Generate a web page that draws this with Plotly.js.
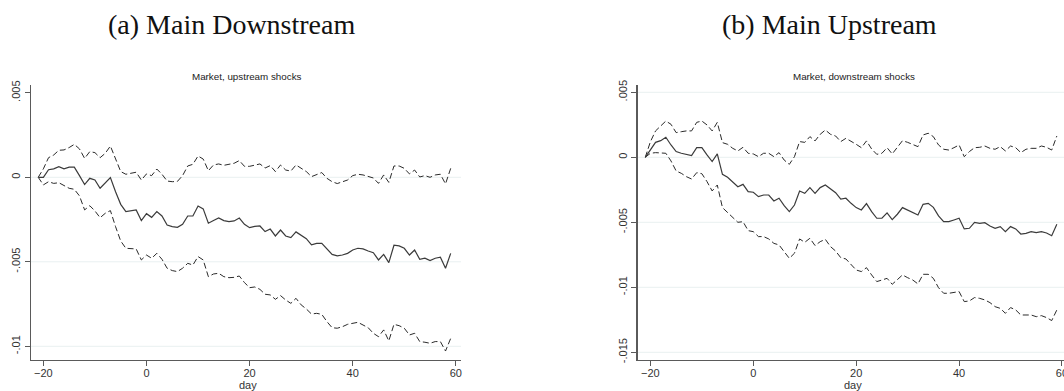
<!DOCTYPE html>
<html>
<head>
<meta charset="utf-8">
<script src="https://cdn.plot.ly/plotly-3.0.1.min.js"></script>
<style>
  html, body { margin: 0; padding: 0; background: #fff; }
  #chart { width: 1064px; height: 391px; overflow: hidden; }
</style>
</head>
<body>
<div id="chart"></div>
<script>
// Event days relative to the announcement
const days = [];
for (let d = -21; d <= 59; d++) days.push(d);

// (a) Main Downstream — market response to upstream shocks
const downEst = [
  0, 0, 0.00045, 0.0005, 0.00063, 0.0005, 0.0006, 0.0006, 0.0001, -0.00043,
  -0.00006, -0.00016, -0.00065, -0.00032, -0.00002, -0.00085, -0.0016, -0.00203, -0.002, -0.00193,
  -0.00256, -0.00215, -0.00237, -0.00203, -0.00229, -0.00282, -0.00292, -0.00296, -0.00278, -0.00229,
  -0.00229, -0.0017, -0.00187, -0.00272, -0.00256, -0.00241, -0.00256, -0.00262, -0.00258, -0.00241,
  -0.00278, -0.00298, -0.0029, -0.00288, -0.00321, -0.00306, -0.00347, -0.00312, -0.00347, -0.00357,
  -0.00323, -0.00343, -0.00363, -0.004, -0.00391, -0.00391, -0.00424, -0.00456, -0.00465, -0.0046,
  -0.0045, -0.0043, -0.0042, -0.00424, -0.00436, -0.00446, -0.00489, -0.00456, -0.00505, -0.00402,
  -0.00406, -0.0042, -0.0046, -0.0043, -0.00485, -0.00479, -0.00493, -0.00479, -0.00473, -0.00538,
  -0.0045
];
const downHi = [
  0, 0.0005, 0.00116, 0.00132, 0.0016, 0.00162, 0.00176, 0.00195, 0.00168, 0.00112,
  0.00152, 0.00146, 0.00116, 0.00142, 0.00185, 0.00108, 0.00034, 0.00018, 0.00024, 0.0003,
  -0.00016, 0.0002, 0.0001, 0.00049, 0.00018, -0.00022, -0.00026, -0.00024, 0.0001, 0.00067,
  0.00077, 0.00126, 0.00108, 0.00039, 0.00073, 0.00079, 0.00071, 0.00077, 0.00083, 0.00099,
  0.00065, 0.00065, 0.00073, 0.00079, 0.00055, 0.00069, 0.00034, 0.00073, 0.00043, 0.00037,
  0.00073, 0.00053, 0.00034, 0.00004, 0.00014, 0.00028, -0.00006, -0.00026, -0.00037, -0.00026,
  -0.00016, 0.0001, 0.00018, 0.00014, 0.00004, -0.00004, -0.00036, 0.00014, -0.0003, 0.00067,
  0.00067, 0.00053, 0.0002, 0.00043, 0.00002, 0.0001, 0, 0.00014, 0.00018, -0.00039,
  0.00053
];
const downLo = [
  0, -0.00045, -0.00026, -0.00036, -0.00032, -0.00051, -0.00065, -0.00071, -0.0011, -0.00193,
  -0.00168, -0.00199, -0.00239, -0.00213, -0.00197, -0.00292, -0.00377, -0.0042, -0.0042, -0.00424,
  -0.00489, -0.0046, -0.00479, -0.0045, -0.00485, -0.00538, -0.00552, -0.00558, -0.00538, -0.00509,
  -0.00519, -0.00469, -0.00489, -0.00588, -0.00572, -0.00568, -0.00588, -0.00594, -0.00592, -0.00584,
  -0.00623, -0.00653, -0.00649, -0.00663, -0.00692, -0.00696, -0.00722, -0.007, -0.00726, -0.00746,
  -0.00716, -0.00755, -0.00779, -0.00809, -0.00805, -0.00811, -0.00854, -0.0089, -0.00893, -0.00884,
  -0.0087, -0.00864, -0.00858, -0.00874, -0.0089, -0.00923, -0.00943, -0.00903, -0.00968, -0.0087,
  -0.00878, -0.00893, -0.00933, -0.00923, -0.00972, -0.00976, -0.00982, -0.00972, -0.00972, -0.01028,
  -0.00953
];

// (b) Main Upstream — market response to downstream shocks
const upEst = [
  0, 0.00056, 0.00115, 0.00128, 0.00154, 0.00095, 0.00044, 0.00031, 0.00023, 0.00013,
  0.00074, 0.00074, 0.00018, -0.00033, 0.00026, -0.00131, -0.00154, -0.00187, -0.00226, -0.00208,
  -0.00264, -0.00269, -0.00303, -0.0029, -0.0029, -0.00336, -0.00315, -0.00372, -0.00418, -0.00367,
  -0.00259, -0.00277, -0.00233, -0.00277, -0.00233, -0.00213, -0.00244, -0.00272, -0.00321, -0.00315,
  -0.00354, -0.00387, -0.00405, -0.00356, -0.00418, -0.00469, -0.00469, -0.00428, -0.00479, -0.00438,
  -0.00387, -0.00405, -0.00426, -0.00444, -0.00362, -0.00354, -0.00385, -0.00451, -0.00495, -0.00495,
  -0.00482, -0.00469, -0.00551, -0.00546, -0.005, -0.00508, -0.00503, -0.00528, -0.00546, -0.00533,
  -0.00572, -0.00533, -0.00551, -0.0059, -0.00585, -0.00572, -0.00579, -0.00572, -0.00582, -0.00603,
  -0.00515
];
const upHi = [
  0, 0.0012, 0.00203, 0.00244, 0.00279, 0.00254, 0.0019, 0.00197, 0.00203, 0.00203,
  0.00269, 0.00279, 0.00249, 0.00203, 0.00269, 0.00113, 0.001, 0.00069, 0.00049, 0.00077,
  0.00031, 0.00026, 0.00005, 0.00031, 0.00031, 0.00005, 0.00036, -0.00021, -0.00054, 0.00005,
  0.00121, 0.00115, 0.00159, 0.00126, 0.00177, 0.0021, 0.00177, 0.00164, 0.00121, 0.00146,
  0.00126, 0.001, 0.00074, 0.00126, 0.00064, 0.00023, 0.00031, 0.00074, 0.00026, 0.00077,
  0.00128, 0.00115, 0.001, 0.00082, 0.00172, 0.00185, 0.00159, 0.00095, 0.00062, 0.00056,
  0.00074, 0.00095, 0.00005, 0.00044, 0.00074, 0.00077, 0.00087, 0.00069, 0.00062, 0.00082,
  0.00049, 0.00087, 0.00074, 0.00036, 0.00062, 0.00069, 0.00069, 0.00087, 0.00077, 0.00056,
  0.00164
];
const upLo = [
  0, 0.00031, 0.00036, 0.00036, 0.00031, -0.00028, -0.00105, -0.00123, -0.00149, -0.00167,
  -0.00118, -0.00126, -0.00187, -0.00259, -0.00213, -0.00387, -0.00426, -0.00464, -0.005, -0.00495,
  -0.00564, -0.00572, -0.0061, -0.0061, -0.00628, -0.00662, -0.00674, -0.00726, -0.00777, -0.00738,
  -0.00628, -0.00654, -0.00623, -0.00679, -0.00649, -0.00631, -0.00687, -0.00721, -0.00772, -0.00782,
  -0.00828, -0.00867, -0.00879, -0.00849, -0.00905, -0.00956, -0.00944, -0.00931, -0.00977, -0.00944,
  -0.00905, -0.00926, -0.00944, -0.00974, -0.009, -0.009, -0.00931, -0.01003, -0.01046, -0.01046,
  -0.01038, -0.01033, -0.0111, -0.01105, -0.01079, -0.01085, -0.01097, -0.01118, -0.01149, -0.01162,
  -0.012, -0.01156, -0.01174, -0.01213, -0.01213, -0.01213, -0.01226, -0.01218, -0.01233, -0.01256,
  -0.01174
];

// Axis ticks
const xTicks = [-20, 0, 20, 40, 60];
const yTicksA = [0.005, 0, -0.005, -0.01];
const yTextA = ['.005', '0', '-.005', '-.01'];
const gridA = [0, -0.005, -0.01];
const yTicksB = [0.005, 0, -0.005, -0.01, -0.015];
const yTextB = ['.005', '0', '-.005', '-.01', '-.015'];
const gridB = [0.005, 0, -0.005, -0.01, -0.015];

const W = 1064, H = 391;
const plotTop = 85, plotBottom = 359.7;
const yDom = [(H - plotBottom) / H, (H - plotTop) / H];

const solid = { color: '#3b3b3b', width: 1.2 };
const dashed = { color: '#2a2a2a', width: 1, dash: '6px,3px' };

function trio(est, hi, lo, xa, ya) {
  return [
    { x: days, y: hi, xaxis: xa, yaxis: ya, mode: 'lines', line: dashed, hoverinfo: 'skip' },
    { x: days, y: lo, xaxis: xa, yaxis: ya, mode: 'lines', line: dashed, hoverinfo: 'skip' },
    { x: days, y: est, xaxis: xa, yaxis: ya, mode: 'lines', line: solid, hoverinfo: 'skip' }
  ];
}

const data = [].concat(
  trio(downEst, downHi, downLo, 'x', 'y'),
  trio(upEst, upHi, upLo, 'x2', 'y2')
);

const tickFont = { family: 'Liberation Sans, Arial, sans-serif', size: 11, color: '#333' };
const axisCol = '#5a5a5a';

function xAxis(domain, range, anchor) {
  return {
    domain: domain, range: range, anchor: anchor,
    tickvals: xTicks, ticks: 'outside', ticklen: 5, tickwidth: 1, tickcolor: axisCol,
    ticklabelstandoff: -2, ticklabeloverflow: 'allow',
    showline: true, linecolor: axisCol, linewidth: 1.5,
    showgrid: false, zeroline: false, tickfont: tickFont
  };
}
function yAxis(range, vals, text, anchor) {
  return {
    domain: yDom, range: range, anchor: anchor,
    tickvals: vals, ticktext: text, tickangle: -90,
    ticks: 'outside', ticklen: 5, tickwidth: 1, tickcolor: axisCol,
    showline: true, linecolor: axisCol, linewidth: 1.5,
    showgrid: false, zeroline: false, tickfont: tickFont
  };
}

function gridShapes(vals, xref, yref) {
  return vals.map(v => ({
    type: 'line', xref: xref + ' domain', yref: yref,
    x0: 0, x1: 1, y0: v, y1: v, layer: 'below',
    line: { color: '#e9f0f1', width: 1 }
  }));
}

const serif = { family: 'Liberation Serif, Times New Roman, serif', size: 28, color: '#111' };
const small = { family: 'Liberation Sans, Arial, sans-serif', size: 9.8, color: '#222' };

function note(text, x, y, font) {
  return { text: text, xref: 'paper', yref: 'paper', x: x / W, y: 1 - y / H,
           xanchor: 'center', yanchor: 'middle', showarrow: false, font: font };
}

const layout = {
  width: W, height: H,
  margin: { l: 0, r: 0, t: 0, b: 0 },
  paper_bgcolor: '#fff', plot_bgcolor: '#fff',
  showlegend: false,
  xaxis: xAxis([31 / W, 461 / W], [-22.4, 61.0], 'y'),
  yaxis: yAxis([-0.010793, 0.005462], yTicksA, yTextA, 'x'),
  xaxis2: xAxis([637.7 / W, 1], [-22.47, 60.39], 'y2'),
  yaxis2: yAxis([-0.015569, 0.005562], yTicksB, yTextB, 'x2'),
  shapes: gridShapes(gridA, 'x', 'y').concat(gridShapes(gridB, 'x2', 'y2')),
  annotations: [
    note('(a) Main Downstream', 231, 25, serif),
    note('(b) Main Upstream', 829, 25, serif),
    note('Market, upstream shocks', 246.5, 76, small),
    note('Market, downstream shocks', 854, 76, small),
    note('day', 248, 385, tickFont),
    note('day', 853, 385, tickFont)
  ]
};

Plotly.newPlot('chart', data, layout, { staticPlot: true, displayModeBar: false });
</script>
</body>
</html>
